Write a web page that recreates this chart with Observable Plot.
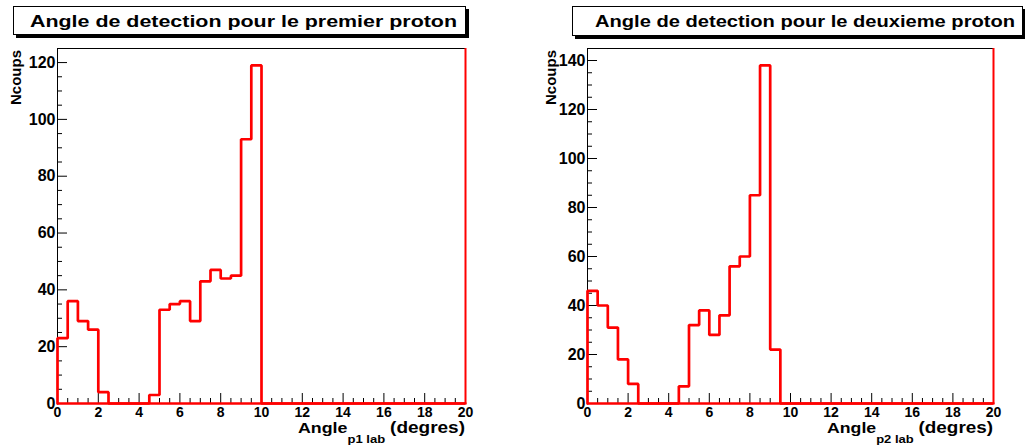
<!DOCTYPE html>
<html><head><meta charset="utf-8">
<script src="https://cdn.jsdelivr.net/npm/d3@7"></script>
<script src="https://cdn.jsdelivr.net/npm/@observablehq/plot@0.6"></script>
<style>
body{margin:0;background:#fff;font-family:"Liberation Sans",Arial,sans-serif;}
#root{position:relative;width:1025px;height:445px;overflow:hidden;background:#fff;}
.panel{position:absolute;top:0;}
.tbox{position:absolute;border:1px solid #000;box-shadow:3px 3px 0 #000;background:#fff;box-sizing:border-box;}
.fit{position:absolute;white-space:nowrap;font-weight:bold;color:#000;transform-origin:0 50%;display:inline-block;}
.title{font-size:16px;line-height:16px;}
.xt{font-size:15px;line-height:11px;}
.xt .sub{font-size:11px;vertical-align:-10px;}
.xt .unit{font-size:16px;}
.yt{position:absolute;width:100px;height:15px;font-size:15px;line-height:15px;font-weight:bold;text-align:right;transform-origin:0 0;transform:rotate(-90deg);white-space:nowrap;}
</style></head>
<body>
<div id="root"></div>
<script>
// ---- data ----
const binLow = [0,0.5,1,1.5,2,2.5,3,3.5,4,4.5,5,5.5,6,6.5,7,7.5,8,8.5,9,9.5,
                10,10.5,11,11.5,12,12.5,13,13.5,14,14.5,15,15.5,16,16.5,17,17.5,18,18.5,19,19.5];
const binWidth = 0.5;
const counts1 = [23,36,29,26,4,0,0,0,0,3,33,35,36,29,43,47,44,45,93,119,
                 0,0,0,0,0,0,0,0,0,0,0,0,0,0,0,0,0,0,0,0];
const counts2 = [46,40,31,18,8,0,0,0,0,7,32,38,28,36,56,60,85,138,22,0,
                 0,0,0,0,0,0,0,0,0,0,0,0,0,0,0,0,0,0,0,0];
const xMajor = [0,2,4,6,8,10,12,14,16,18,20];
const xMinor = binLow.concat([20]).filter(v => !xMajor.includes(v));
const yMajor1 = [0,20,40,60,80,100,120];
const yMajor2 = [0,20,40,60,80,100,120,140];
const title1 = "Angle de detection pour le premier proton";
const title2 = "Angle de detection pour le deuxieme proton";
const xTitleMain = "Angle", xSub1 = "p1 lab", xSub2 = "p2 lab", xUnit = "(degres)";
const yTitle = "Ncoups";

function panel({counts, ymax, yMajor, width, marginLeft, marginRight}) {
  const H = 445, mt = 48, mb = 42;
  const fw = width - marginLeft - marginRight, fh = H - mt - mb;
  const yMinor = [];
  for (let v = 0; v <= ymax; v += 5) if (!yMajor.includes(v)) yMinor.push(v);
  const verts = [{x: binLow[0], y: 0}];
  counts.forEach((c, i) => { verts.push({x: binLow[i], y: c}, {x: binLow[i] + binWidth, y: c}); });
  verts.push({x: binLow[binLow.length - 1] + binWidth, y: 0});
  return Plot.plot({
    width, height: H, marginLeft, marginRight, marginTop: mt, marginBottom: mb,
    x: {domain: [0, 20], label: null},
    y: {domain: [0, ymax], label: null},
    style: {fontFamily: "'Liberation Sans', Arial, sans-serif", fontWeight: "bold", fontSize: "15px", background: "transparent", color: "#000", overflow: "visible"},
    marks: [
      Plot.frame({stroke: "black", strokeWidth: 1}),
      Plot.tickX(xMinor, {x: d => d, insetTop: fh - 5, stroke: "black"}),
      Plot.tickX(xMajor, {x: d => d, insetTop: fh - 10, stroke: "black"}),
      Plot.tickY(yMinor, {y: d => d, insetRight: fw - 5, stroke: "black"}),
      Plot.tickY(yMajor, {y: d => d, insetRight: fw - 10, stroke: "black"}),
      Plot.axisX({ticks: xMajor, tickSize: 0, tickPadding: 4, fontSize: 14, label: null, tickFormat: d => String(d)}),
      Plot.axisY({ticks: yMajor, tickSize: 0, tickPadding: 2, fontSize: 16, label: null, tickFormat: d => String(d)}),
      Plot.ruleY([0], {stroke: "red", strokeWidth: 2.5}),
      Plot.line(verts, {x: "x", y: "y", stroke: "red", strokeWidth: 2.7, strokeLinejoin: "miter"}),
      Plot.ruleX([20], {stroke: "red", strokeWidth: 2})
    ]
  });
}

const root = document.getElementById("root");
const p1 = panel({counts: counts1, ymax: Math.max(...counts1) * 1.05, yMajor: yMajor1, width: 512, marginLeft: 57, marginRight: 47});
p1.classList.add("panel"); p1.style.left = "0px";
const p2 = panel({counts: counts2, ymax: Math.max(...counts2) * 1.05, yMajor: yMajor2, width: 513, marginLeft: 75, marginRight: 32});
p2.classList.add("panel"); p2.style.left = "512px";
root.append(p1, p2);

function el(tag, cls, style, html) {
  const e = document.createElement(tag);
  if (cls) e.className = cls;
  Object.assign(e.style, style);
  if (html != null) e.innerHTML = html;
  root.appendChild(e);
  return e;
}
// title boxes
el("div", "tbox", {left: "13px", top: "6px", width: "453px", height: "29px"});
el("div", "tbox", {left: "572px", top: "6px", width: "451px", height: "30px"});
const fits = [
  [el("span", "fit title", {left: "30px", top: "14px"}, title1), 427],
  [el("span", "fit title", {left: "595px", top: "14px"}, title2), 420],
  [el("span", "fit xt", {left: "298px", top: "422px"}, `${xTitleMain}<span class="sub">${xSub1}</span> <span class="unit">${xUnit}</span>`), 167],
  [el("span", "fit xt", {left: "827px", top: "422px"}, `${xTitleMain}<span class="sub">${xSub2}</span> <span class="unit">${xUnit}</span>`), 166]
];
fits.forEach(([e, w]) => {
  const m = e.getBoundingClientRect().width;
  e.style.transform = `scaleX(${w / m})`;
});
el("div", "yt", {left: "8px", top: "150px"}, yTitle);
el("div", "yt", {left: "543px", top: "150px"}, yTitle);
</script>
</body></html>
